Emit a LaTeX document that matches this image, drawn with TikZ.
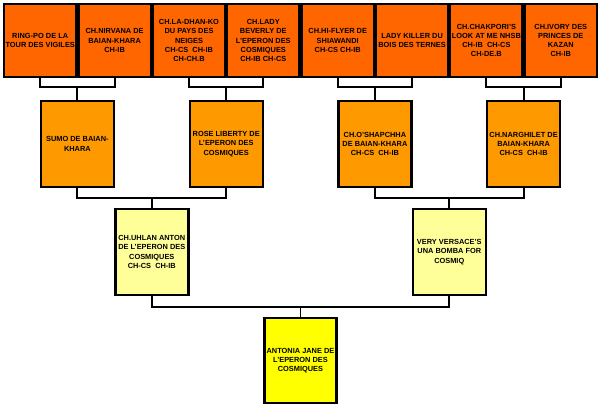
\documentclass[tikz,border=0pt]{standalone}
\usepackage{fontspec}
\setmainfont{Liberation Sans}
\definecolor{cA}{HTML}{FF6600}
\definecolor{cB}{HTML}{FF9900}
\definecolor{cC}{HTML}{FFFF99}
\definecolor{cD}{HTML}{FFFF00}
\tikzset{
  dog/.style={draw=black, line width=2.4pt, align=center, inner sep=0pt,
    font=\fontsize{7.4}{9.2}\selectfont\bfseries, text=black},
  gA/.style={dog, fill=cA, minimum width=72.5pt, minimum height=73pt},
  gB/.style={dog, fill=cB, minimum width=73pt, minimum height=86pt},
  gC/.style={dog, fill=cC, minimum width=73pt, minimum height=86pt},
  gD/.style={dog, fill=cD, minimum width=72pt, minimum height=85pt},
  conn/.style={draw=black, line width=1.9pt}
}
\begin{document}
\begin{tikzpicture}[x=1pt,y=-1pt]
\useasboundingbox (0,0) rectangle (600,408);
% level 1
\node[gA] (t1) at (40.2,40.5) {RING-PO DE LA\\TOUR DES VIGILES};
\node[gA] (t2) at (114.6,40.5) {CH.NIRVANA DE\\BAIAN-KHARA\\CH-IB};
\node[gA] (t3) at (189.0,40.5) {CH.LA-DHAN-KO\\DU PAYS DES\\NEIGES\\CH-CS\ \ CH-IB\\CH-CH.B};
\node[gA] (t4) at (263.3,40.5) {CH.LADY\\BEVERLY DE\\L'EPERON DES\\COSMIQUES\\CH-IB CH-CS};
\node[gA] (t5) at (337.7,40.5) {CH.HI-FLYER DE\\SHIAWANDI\\CH-CS CH-IB};
\node[gA] (t6) at (412.1,40.5) {LADY KILLER DU\\BOIS DES TERNES};
\node[gA] (t7) at (486.4,40.5) {CH.CHAKPORI'S\\LOOK AT ME NHSB\\CH-IB\ \ CH-CS\\CH-DE.B};
\node[gA] (t8) at (560.8,40.5) {CH.IVORY DES\\PRINCES DE\\KAZAN\\CH-IB};
% level 2
\node[gB] (s1) at (77.4,144) {SUMO DE BAIAN-\\KHARA};
\node[gB] (s2) at (226.2,144) {ROSE LIBERTY DE\\L'EPERON DES\\COSMIQUES};
\node[gB] (s3) at (374.9,144) {CH.O'SHAPCHHA\\DE BAIAN-KHARA\\CH-CS\ \ CH-IB};
\node[gB] (s4) at (523.6,144) {CH.NARGHILET DE\\BAIAN-KHARA\\CH-CS\ \ CH-IB};
% level 3
\node[gC] (p1) at (151.8,252) {CH.UHLAN ANTON\\DE L'EPERON DES\\COSMIQUES\\CH-CS\ \ CH-IB};
\node[gC] (p2) at (449.3,252) {VERY VERSACE'S\\UNA BOMBA FOR\\COSMIQ};
% level 4
\node[gD] (r) at (300.5,360.5) {ANTONIA JANE DE\\L'EPERON DES\\COSMIQUES};
% connectors
\draw[conn] (t1.south) -- ++(0,9) -| (t2.south);
\draw[conn] (s1.north) -- ++(0,-13);
\draw[conn] (t3.south) -- ++(0,9) -| (t4.south);
\draw[conn] (s2.north) -- ++(0,-13);
\draw[conn] (t5.south) -- ++(0,9) -| (t6.south);
\draw[conn] (s3.north) -- ++(0,-13);
\draw[conn] (t7.south) -- ++(0,9) -| (t8.south);
\draw[conn] (s4.north) -- ++(0,-13);
\draw[conn] (s1.south) -- ++(0,10) -| (s2.south);
\draw[conn] (p1.north) -- ++(0,-10);
\draw[conn] (s3.south) -- ++(0,10) -| (s4.south);
\draw[conn] (p2.north) -- ++(0,-10);
\draw[conn] (p1.south) -- ++(0,11) -| (p2.south);
\draw[conn] (r.north) -- ++(0,-10);
\end{tikzpicture}
\end{document}
